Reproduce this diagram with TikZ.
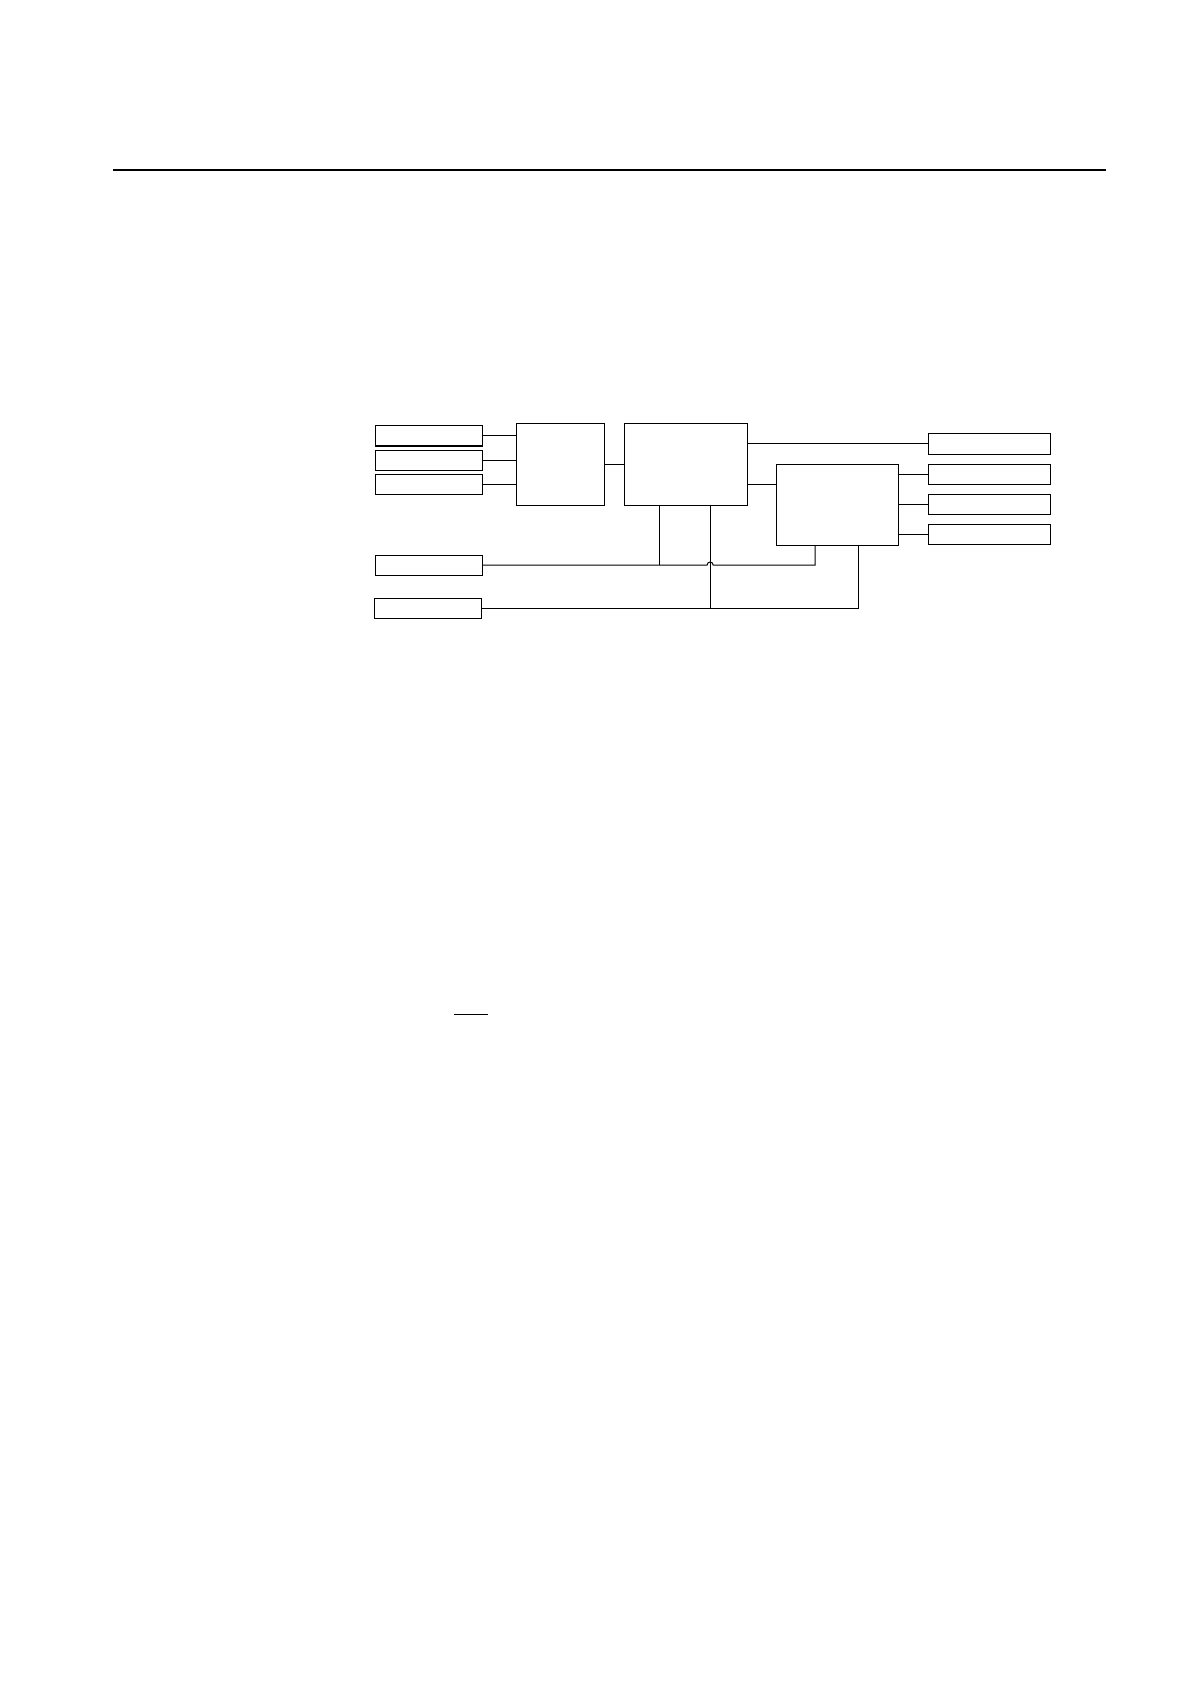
\documentclass[tikz,border=0pt]{standalone}
\usetikzlibrary{positioning, calc}
\begin{document}
\begin{tikzpicture}[x=0.5pt, y=-0.5pt, line width=0.5pt, every node/.style={draw, inner sep=0pt, outer sep=0pt, line width=0.5pt}]

        \useasboundingbox (0,0) rectangle (1191,1684);

        % Stile
        \tikzstyle{eingang}=[minimum width=53.5pt, minimum height=10pt]
        \tikzstyle{ausgang}=[minimum width=61pt, minimum height=10pt]
        \tikzstyle{block}=[minimum height=40.5pt]

        % Kopflinie
        \draw[line width=0.7pt] (113,170) -- (1106,170);

        % Bloecke
        \node[block, minimum width=44pt] (blockA) at (560,464.5) {};
        \node[block, minimum width=61.5pt, right=10pt of blockA] (blockB) {};
        \node[block, minimum width=61pt] (blockC) at (837,504.5) {};

        % Eingaenge
        \node[eingang] (ein1) at (428.5,436) {};
        \node[eingang, below=2pt of ein1] (ein2) {};
        \node[eingang, below=2pt of ein2] (ein3) {};
        \node[eingang, below=30.5pt of ein3] (ein4) {};
        \node[eingang, below=11.5pt of ein4, xshift=-0.5pt] (ein5) {};

        % Ausgaenge
        \node[ausgang] (aus1) at (989,444) {};
        \node[ausgang, below=5pt of aus1] (aus2) {};
        \node[ausgang, below=5pt of aus2] (aus3) {};
        \node[ausgang, below=5pt of aus3] (aus4) {};

        % Verbindungen
        \foreach \i in {1,2,3}
          \draw (ein\i.east) -- (ein\i.east -| blockA.west);
        \draw (blockA.east) -- (blockB.west);
        \draw (aus1.west) -- (aus1.west -| blockB.east);
        \coordinate (cB) at ($(blockC.north west)!0.25!(blockC.south west)$);
        \draw (cB) -- (cB -| blockB.east);
        \foreach \i in {2,3,4}
          \draw (aus\i.west) -- (aus\i.west -| blockC.east);

        % Leitungen unten
        \coordinate (bB1) at ($(blockB.south west)!0.29!(blockB.south east)$);
        \coordinate (bB2) at ($(blockB.south west)!0.70!(blockB.south east)$);
        \coordinate (bC1) at ($(blockC.south west)!0.32!(blockC.south east)$);
        \coordinate (bC2) at ($(blockC.south west)!0.68!(blockC.south east)$);

        \draw (bB1) -- (bB1 |- ein4.east);
        \draw (ein4.east) -- ($(bB2 |- ein4.east)-(3,0)$) arc(180:360:3) -- (bC1 |- ein4.east) -- (bC1);
        \draw (bB2) -- (bB2 |- ein5.east);
        \draw (ein5.east) -- (bC2 |- ein5.east) -- (bC2);

        % Strich
        \draw (454,1014) -- (488,1014);
        \end{tikzpicture}
\end{document}
